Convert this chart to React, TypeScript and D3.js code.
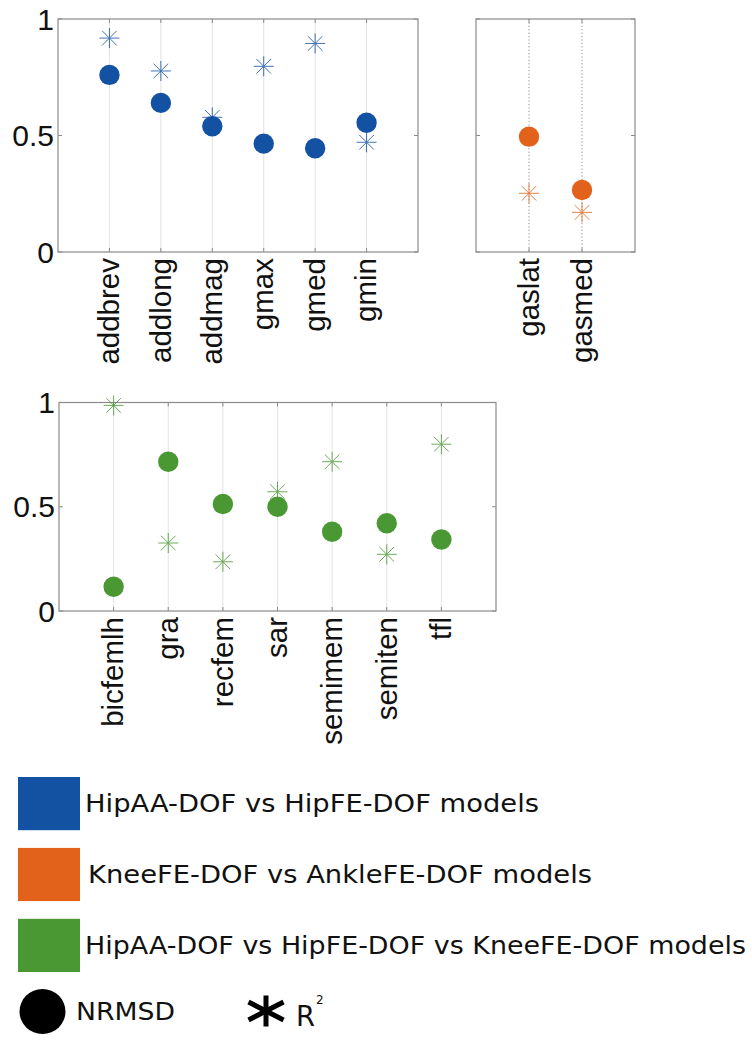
import React from 'react';
import * as d3 from 'd3';

// values
const hipCats = ['addbrev', 'addlong', 'addmag', 'gmax', 'gmed', 'gmin'];
const hipNrmsd = [0.76, 0.64, 0.54, 0.465, 0.445, 0.555];
const hipR2 = [0.918, 0.777, 0.578, 0.797, 0.895, 0.471];

const ankleCats = ['gaslat', 'gasmed'];
const ankleNrmsd = [0.495, 0.266];
const ankleR2 = [0.252, 0.17];

const kneeCats = ['bicfemlh', 'gra', 'recfem', 'sar', 'semimem', 'semiten', 'tfl'];
const kneeNrmsd = [0.116, 0.716, 0.513, 0.5, 0.38, 0.421, 0.343];
const kneeR2 = [0.986, 0.326, 0.236, 0.572, 0.716, 0.272, 0.8];

const yTicks = [0, 0.5, 1];
const yTickLabels = ['0', '0.5', '1'];

const legendItems = [
  { label: 'HipAA-DOF vs HipFE-DOF models', color: '#1351a3' },
  { label: 'KneeFE-DOF vs AnkleFE-DOF models', color: '#e2621c' },
  { label: 'HipAA-DOF vs HipFE-DOF vs KneeFE-DOF models', color: '#4a9833' },
];

const BOX = '#8a8a8a';
const TICK_FONT = '"Liberation Sans", Arial, sans-serif';
const LEG_FONT = '"DejaVu Sans", Verdana, sans-serif';

function Star({ cx, cy, color }: { cx: number; cy: number; color: string }) {
  const r = 10;
  const d = 7.3;
  return (
    <g stroke={color} strokeWidth={1} opacity={0.8}>
      <line x1={cx - r} y1={cy} x2={cx + r} y2={cy} />
      <line x1={cx} y1={cy - r} x2={cx} y2={cy + r} />
      <line x1={cx - d} y1={cy - d} x2={cx + d} y2={cy + d} />
      <line x1={cx - d} y1={cy + d} x2={cx + d} y2={cy - d} />
    </g>
  );
}

function Panel(props: {
  cats: string[];
  nrmsd: number[];
  r2: number[];
  color: string;
  left: number;
  right: number;
  top: number;
  bottom: number;
  yLabels: boolean;
  dotted: boolean;
}) {
  const { cats, nrmsd, r2, color, left, right, top, bottom, yLabels, dotted } = props;
  const x = d3.scaleLinear().domain([0, cats.length + 1]).range([left, right]);
  const y = d3.scaleLinear().domain([0, 1]).range([bottom, top]);
  return (
    <g>
      {cats.map((c, i) => (
        <line
          key={'g' + c}
          x1={x(i + 1)}
          x2={x(i + 1)}
          y1={top}
          y2={bottom}
          stroke={dotted ? '#8c8c8c' : '#e3e3e3'}
          strokeWidth={1}
          strokeDasharray={dotted ? '1.2 2.2' : undefined}
        />
      ))}
      {/* inward ticks */}
      {cats.map((c, i) => (
        <g key={'t' + c} stroke={BOX} strokeWidth={1}>
          <line x1={x(i + 1)} x2={x(i + 1)} y1={bottom} y2={bottom - 4} />
          <line x1={x(i + 1)} x2={x(i + 1)} y1={top} y2={top + 4} />
        </g>
      ))}
      {yTicks.map((t) => (
        <g key={'yt' + t} stroke={BOX} strokeWidth={1}>
          <line x1={left} x2={left + 4} y1={y(t)} y2={y(t)} />
          <line x1={right} x2={right - 4} y1={y(t)} y2={y(t)} />
        </g>
      ))}
      <rect x={left} y={top} width={right - left} height={bottom - top} fill="none" stroke={BOX} strokeWidth={1.2} />
      {yLabels &&
        yTicks.map((t, i) => (
          <text
            key={'yl' + t}
            x={left - 4}
            y={y(t)}
            textAnchor="end"
            dominantBaseline="central"
            fontFamily={TICK_FONT}
            fontSize={30}
            fill="#111"
          >
            {yTickLabels[i]}
          </text>
        ))}
      {cats.map((c, i) => (
        <text
          key={'xl' + c}
          transform={`translate(${x(i + 1)},${bottom + 6}) rotate(-90)`}
          textAnchor="end"
          dy="0.33em"
          fontFamily={TICK_FONT}
          fontSize={29.5}
          fill="#111"
        >
          {c}
        </text>
      ))}
      {cats.map((c, i) => (
        <Star key={'s' + c} cx={x(i + 1)} cy={y(r2[i])} color={color} />
      ))}
      {cats.map((c, i) => (
        <circle key={'c' + c} cx={x(i + 1)} cy={y(nrmsd[i])} r={10.2} fill={color} />
      ))}
    </g>
  );
}

export default function App() {
  const legendY = d3
    .scaleBand<number>()
    .domain(legendItems.map((_, i) => i))
    .range([777, 972])
    .paddingInner(0.25);
  const textLengths = [454, 504, 661];
  const textX = [85, 88, 85];
  return (
    <svg
      width={752}
      height={1043}
      viewBox="0 0 752 1043"
      style={{ position: 'absolute', left: 0, top: 0, background: '#fff' }}
    >
      <rect width={752} height={1043} fill="#fff" />
      <Panel cats={hipCats} nrmsd={hipNrmsd} r2={hipR2} color="#1351a3" left={58} right={418} top={19} bottom={252} yLabels dotted={false} />
      <Panel cats={ankleCats} nrmsd={ankleNrmsd} r2={ankleR2} color="#e2621c" left={476} right={635} top={19} bottom={252} yLabels={false} dotted />
      <Panel cats={kneeCats} nrmsd={kneeNrmsd} r2={kneeR2} color="#4a9833" left={59} right={496} top={402.5} bottom={611} yLabels dotted={false} />

      {legendItems.map((it, i) => {
        const y0 = legendY(i) as number;
        const h = legendY.bandwidth();
        return (
          <g key={it.label}>
            <rect x={18} y={y0} width={62} height={h} fill={it.color} />
            <text
              x={textX[i]}
              y={y0 + h / 2 + 8.5}
              fontFamily={LEG_FONT}
              fontSize={25.5}
              textLength={textLengths[i]}
              lengthAdjust="spacingAndGlyphs"
              fill="#111"
            >
              {it.label}
            </text>
          </g>
        );
      })}

      {/* marker legend */}
      <ellipse cx={42.5} cy={1011.5} rx={23} ry={22.5} fill="#000" />
      <text x={76} y={1020} fontFamily={LEG_FONT} fontSize={24} textLength={99} lengthAdjust="spacingAndGlyphs" fill="#111">
        NRMSD
      </text>
      <g stroke="#000" strokeWidth={5} strokeLinecap="butt">
        <line x1={266} y1={995.5} x2={266} y2={1026.5} />
        <line x1={248.5} y1={1002} x2={283.5} y2={1020} />
        <line x1={248.5} y1={1020} x2={283.5} y2={1002} />
      </g>
      <text x={296} y={1026} fontFamily={LEG_FONT} fontSize={29} textLength={19} lengthAdjust="spacingAndGlyphs" fill="#111">
        R
      </text>
      <text x={316} y={1004} fontFamily={LEG_FONT} fontSize={12} fill="#111">
        2
      </text>
    </svg>
  );
}
